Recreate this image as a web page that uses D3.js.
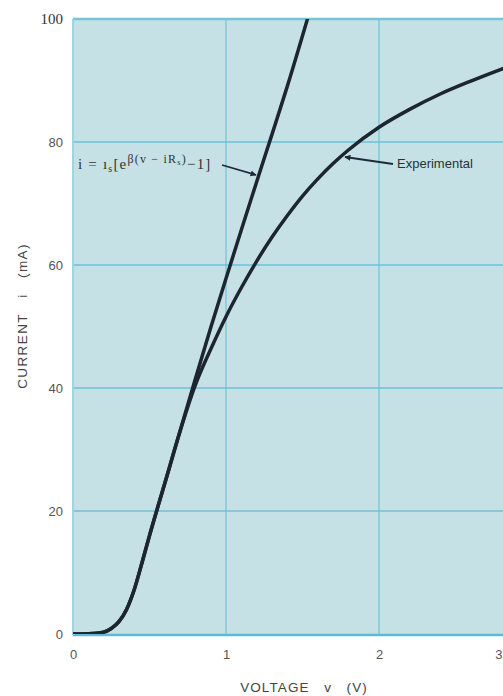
<!DOCTYPE html>
<html><head><meta charset="utf-8">
<script src="https://cdn.jsdelivr.net/npm/d3@7"></script>
<style>body{margin:0;background:#fff}svg{display:block}</style>
</head><body>
<script>
const xTicks = [0, 1, 2, 3];
const yTicks = [0, 20, 40, 60, 80, 100];
const theoV = [0, 0.1, 0.2, 0.25, 0.3, 0.35, 0.4, 0.45, 0.5, 0.6, 0.7, 0.8, 0.9, 1.0, 1.1, 1.2, 1.3, 1.4, 1.55];
const theoI = [0, 0.05, 0.3, 0.9, 2.0, 4.0, 7.2, 11.5, 16, 24.5, 33, 41.5, 49.8, 57.8, 65.7, 73.5, 81.2, 89, 101.5];
const expV = [0, 0.1, 0.2, 0.25, 0.3, 0.35, 0.4, 0.45, 0.5, 0.6, 0.7, 0.8, 0.9, 1.0, 1.1, 1.2, 1.3, 1.4, 1.5, 1.6, 1.7, 1.8, 2.0, 2.2, 2.4, 2.6, 2.85, 3.1];
const expI = [0, 0.05, 0.3, 0.9, 2.0, 4.0, 7.2, 11.5, 16, 24.5, 33, 40.5, 46.3, 51.6, 56.3, 60.6, 64.5, 68.0, 71.2, 74.0, 76.5, 78.7, 82.4, 85.3, 87.8, 89.9, 92.3, 94.4];

const W = 503, H = 696;
const svg = d3.select("body").append("svg").attr("width", W).attr("height", H);
const x = d3.scaleLinear().domain([0, 3.2]).range([73, 73 + 3.2 * 153]);
const y = d3.scaleLinear().domain([0, 100]).range([634, 19]);

const defs = svg.append("defs");
defs.append("clipPath").attr("id", "clip").append("rect")
  .attr("x", x(0)).attr("y", y(100)).attr("width", x(3.2) - x(0)).attr("height", y(0) - y(100));
defs.append("marker").attr("id", "arr").attr("viewBox", "0 0 10 10").attr("refX", 9).attr("refY", 5)
  .attr("markerWidth", 8).attr("markerHeight", 6).attr("orient", "auto").attr("markerUnits", "userSpaceOnUse")
  .append("path").attr("d", "M0,0 L10,5 L0,10 z").attr("fill", "#1e2a35");

// plot background
svg.append("rect").attr("x", x(0)).attr("y", y(100)).attr("width", x(3.2) - x(0)).attr("height", y(0) - y(100) + 1)
  .attr("fill", "#c5e1e6");

// grid
const g = svg.append("g");
g.selectAll(".vg").data(xTicks.filter(d => d > 0)).enter().append("line")
  .attr("x1", d => x(d)).attr("x2", d => x(d)).attr("y1", y(100)).attr("y2", y(0))
  .attr("stroke", "#7fc8d8").attr("stroke-width", 1.5);
g.selectAll(".hg").data(yTicks.filter(d => d > 0 && d < 100)).enter().append("line")
  .attr("x1", x(0)).attr("x2", x(3.2)).attr("y1", d => y(d)).attr("y2", d => y(d))
  .attr("stroke", "#6cc0d6").attr("stroke-width", 1.5);
// borders
svg.append("line").attr("x1", x(0)).attr("x2", x(3.2)).attr("y1", y(100)).attr("y2", y(100))
  .attr("stroke", "#74c4da").attr("stroke-width", 2.5);
svg.append("line").attr("x1", x(0)).attr("x2", x(3.2)).attr("y1", y(0) + 1).attr("y2", y(0) + 1)
  .attr("stroke", "#5dbbd6").attr("stroke-width", 2.5);
svg.append("line").attr("x1", x(0)).attr("x2", x(0)).attr("y1", y(100)).attr("y2", y(0) + 1)
  .attr("stroke", "#9fd4e2").attr("stroke-width", 2);

// axes (labels only)
const yAxis = d3.axisLeft(y).tickValues(yTicks).tickSize(0).tickPadding(10).tickFormat(d3.format("d"));
const ya = svg.append("g").attr("transform", `translate(${x(0)},0)`).call(yAxis);
ya.select(".domain").remove();
ya.selectAll("text").attr("font-family", d => d === 100 ? "Liberation Serif, serif" : "Liberation Sans, Arial, sans-serif")
  .attr("font-size", d => d === 100 ? 15 : 13).attr("fill", d => d === 100 ? "#333" : "#555");
const xAxis = d3.axisBottom(x).tickValues(xTicks).tickSize(0).tickPadding(16).tickFormat(d3.format("d"));
const xa = svg.append("g").attr("transform", `translate(0,${y(0)})`).call(xAxis);
xa.select(".domain").remove();
xa.selectAll("text").attr("font-family", "Liberation Sans, Arial, sans-serif").attr("font-size", 13).attr("fill", "#555");
xa.selectAll(".tick").filter(d => x(d) > W - 8).select("text").attr("text-anchor", "end").attr("x", W - 1 - x(3));

// axis titles
svg.append("text").attr("x", 304).attr("y", 692).attr("text-anchor", "middle")
  .attr("font-family", "Liberation Sans, Arial, sans-serif").attr("font-size", 13.5).attr("fill", "#444")
  .attr("letter-spacing", 1.1).attr("xml:space", "preserve").text("VOLTAGE   v   (V)");
svg.append("text").attr("transform", "translate(27,316) rotate(-90)").attr("text-anchor", "middle")
  .attr("font-family", "Liberation Sans, Arial, sans-serif").attr("font-size", 13.5).attr("fill", "#444")
  .attr("letter-spacing", 1.4).attr("xml:space", "preserve").text("CURRENT   i   (mA)");

// curves
const line = d3.line().x(d => x(d[0])).y(d => y(d[1])).curve(d3.curveMonotoneX);
const plot = svg.append("g").attr("clip-path", "url(#clip)");
plot.append("path").datum(theoV.map((v, i) => [v, theoI[i]])).attr("d", line)
  .attr("fill", "none").attr("stroke", "#1c2530").attr("stroke-width", 3.5).attr("stroke-linejoin", "round");
plot.append("path").datum(expV.map((v, i) => [v, expI[i]])).attr("d", line)
  .attr("fill", "none").attr("stroke", "#1c2530").attr("stroke-width", 3.5).attr("stroke-linejoin", "round");

// annotations
const f = svg.append("text").attr("x", 78).attr("y", 169)
  .attr("font-family", "Liberation Serif, serif").attr("font-size", 15).attr("fill", "#333")
  .attr("letter-spacing", 1.2).attr("xml:space", "preserve");
f.append("tspan").text("i = ı");
f.append("tspan").attr("font-size", 10).attr("dy", 3).text("s");
f.append("tspan").attr("dy", -3).text("[e");
f.append("tspan").attr("font-size", 12).attr("dy", -6).text("β(v − iR");
f.append("tspan").attr("font-size", 8.5).attr("dy", 2).text("s");
f.append("tspan").attr("font-size", 12).attr("dy", -2).text(")");
f.append("tspan").attr("dy", 6).text("−1]");
svg.append("line").attr("x1", 222).attr("y1", 165).attr("x2", 256).attr("y2", 175)
  .attr("stroke", "#1e2a35").attr("stroke-width", 1.8).attr("marker-end", "url(#arr)");

svg.append("text").attr("x", 397).attr("y", 168)
  .attr("font-family", "Liberation Sans, Arial, sans-serif").attr("font-size", 13).attr("fill", "#2a3038")
  .text("Experimental");
svg.append("line").attr("x1", 393).attr("y1", 164).attr("x2", 345).attr("y2", 157)
  .attr("stroke", "#1e2a35").attr("stroke-width", 1.8).attr("marker-end", "url(#arr)");
</script>
</body></html>
